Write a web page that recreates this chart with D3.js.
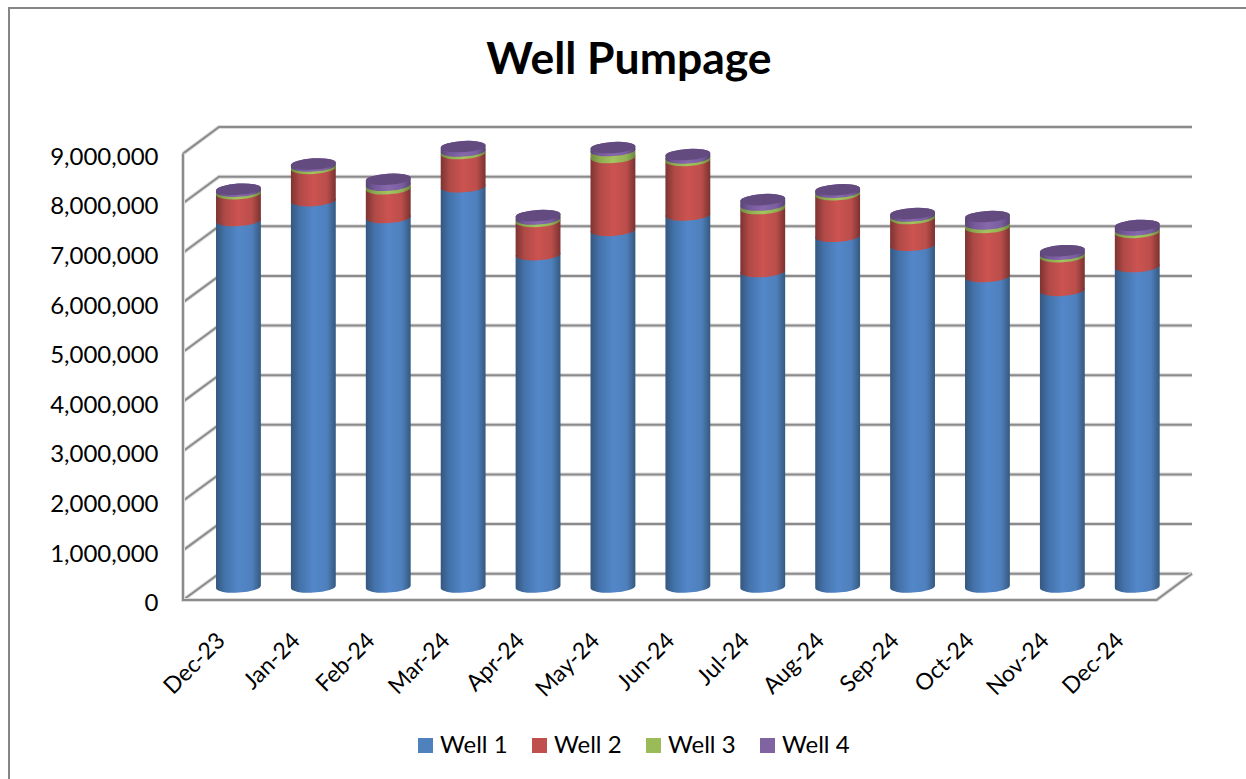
<!DOCTYPE html>
<html>
<head>
<meta charset="utf-8">
<script src="https://cdn.jsdelivr.net/npm/d3@7"></script>
<style>
html,body{margin:0;padding:0;background:#fff;}
svg{display:block;}
text{font-family:Lato,"Open Sans",sans-serif;fill:#000;}
</style>
</head>
<body>
<svg id="chart" width="1246" height="779"></svg>
<script>
const months = ["Dec-23","Jan-24","Feb-24","Mar-24","Apr-24","May-24","Jun-24","Jul-24","Aug-24","Sep-24","Oct-24","Nov-24","Dec-24"];
const well1 = [7390000,7790000,7450000,8070000,6700000,7190000,7500000,6360000,7070000,6890000,6260000,5980000,6460000];
const well2 = [540000,650000,580000,670000,670000,1470000,1100000,1270000,840000,540000,990000,680000,690000];
const well3 = [50000,50000,70000,50000,50000,140000,50000,70000,50000,50000,70000,50000,50000];
const well4 = [40000,40000,120000,90000,70000,60000,70000,110000,50000,50000,150000,70000,90000];
const seriesNames = ["Well 1","Well 2","Well 3","Well 4"];
const seriesValues = [well1,well2,well3,well4];
const legendColors = ["#4f81bd","#c0504d","#9bbb59","#8064a2"];
const yTicks = [0,1000000,2000000,3000000,4000000,5000000,6000000,7000000,8000000,9000000];

const svg = d3.select("#chart");
const defs = svg.append("defs");

// cylinder shading, one horizontal gradient per series
const shades = [
  ["#35577f","#4473ab","#5387c9","#4f80bd","#35597f"],
  ["#7e3331","#b04a47","#cc5350","#bb4e4b","#7a3230"],
  ["#6f8840","#8eab50","#a3c45e","#93b254","#6c853f"],
  ["#5a4575","#75599a","#8768ac","#7a5ea0","#574373"]
];
shades.forEach((c,i)=>{
  const g = defs.append("linearGradient").attr("id","side"+i).attr("x1",0).attr("x2",1).attr("y1",0).attr("y2",0);
  [0,0.2,0.5,0.8,1].forEach((o,k)=>g.append("stop").attr("offset",o).attr("stop-color",c[k]));
});

// outer chart border
svg.append("path").attr("d","M9,779V8H1246").attr("fill","none").attr("stroke","#868686").attr("stroke-width",2);

// title
svg.append("text").attr("x",629).attr("y",74).attr("text-anchor","middle")
  .attr("font-size",44.5).attr("font-weight",700).text("Well Pumpage");

// scales: front plane, back wall and bar plane share one value domain
const front = d3.scaleLinear().domain([0,9000000]).range([600,153.6]);
const back  = d3.scaleLinear().domain([0,9000000]).range([573.7,127]);
const barY  = d3.scaleLinear().domain([0,9000000]).range([587,140.6]);
const x = d3.scaleBand().domain(months).range([201,1174.7]);
const xFront = d3.scaleBand().domain(months).range([183,1156.7]);

const xL=183, xB=219, xR=1192, xFR=1156.5;
function strokeLine(d){
  svg.append("path").attr("d",d).attr("fill","none").attr("stroke","#dcdcdc").attr("stroke-width",4);
  svg.append("path").attr("d",d).attr("fill","none").attr("stroke","#8b8b8b").attr("stroke-width",2).attr("stroke-linejoin","miter");
}
yTicks.forEach(v=>{
  strokeLine(`M${xL},${front(v)}L${xB},${back(v)}L${xR},${back(v)}`);
});
strokeLine(`M${xL},${front(9000000)}L${xL},${front(0)}L${xFR},${front(0)}L${xR},${back(0)}`);

// y axis labels
const yAxis = d3.axisLeft(front).tickValues(yTicks).tickFormat(d3.format(",")).tickSize(0).tickPadding(0);
const yG = svg.append("g").attr("transform","translate(158.5,2)").call(yAxis);
yG.select(".domain").remove();
yG.selectAll("text").attr("font-size",24).attr("fill","#000").style("font-family","Lato,'Open Sans',sans-serif").attr("dy","0.36em");

// x axis labels
const xAxis = d3.axisBottom(xFront).tickSize(0).tickPadding(0);
const xG = svg.append("g").attr("transform","translate(0,600)").call(xAxis);
xG.select(".domain").remove();
xG.selectAll("text")
  .attr("font-size",23).attr("fill","#000").style("font-family","Lato,'Open Sans',sans-serif")
  .attr("text-anchor","end").attr("dy",0).attr("y",0).attr("x",0)
  .attr("transform","translate(6,42) rotate(-45)");

// cylinders
const rx = x.bandwidth()*0.3, ry = 5.6, tilt = -3.5;
const dy = rx*Math.sin(tilt*Math.PI/180);
const ax = rx*Math.cos(tilt*Math.PI/180);
function sidePath(cx,yB,yT){
  return `M${cx-ax},${yT-dy}`+
    `A${rx},${ry} ${tilt} 0 1 ${cx+ax},${yT+dy}`+
    `L${cx+ax},${yB+dy}`+
    `A${rx},${ry} ${tilt} 0 1 ${cx-ax},${yB-dy}Z`;
}
function capPath(cx,yT){
  return `M${cx-ax},${yT-dy}`+
    `A${rx},${ry} ${tilt} 0 1 ${cx+ax},${yT+dy}`+
    `A${rx},${ry} ${tilt} 0 1 ${cx-ax},${yT-dy}Z`;
}
months.forEach((m,i)=>{
  const cx = x(m)+x.bandwidth()/2;
  let sum = 0;
  seriesValues.forEach((vals,s)=>{
    const y0 = barY(sum), y1 = barY(sum+vals[i]);
    svg.append("path").attr("d",sidePath(cx,y0,y1)).attr("fill",`url(#side${s})`);
    sum += vals[i];
  });
  svg.append("path").attr("d",capPath(cx,barY(sum))).attr("fill","#634b80");
});

// legend
const legendX = [418,532,646,760];
seriesNames.forEach((n,i)=>{
  svg.append("rect").attr("x",legendX[i]).attr("y",738).attr("width",15).attr("height",15).attr("fill",legendColors[i]);
  svg.append("text").attr("x",legendX[i]+22).attr("y",753).attr("font-size",24).text(n);
});
</script>
</body>
</html>
